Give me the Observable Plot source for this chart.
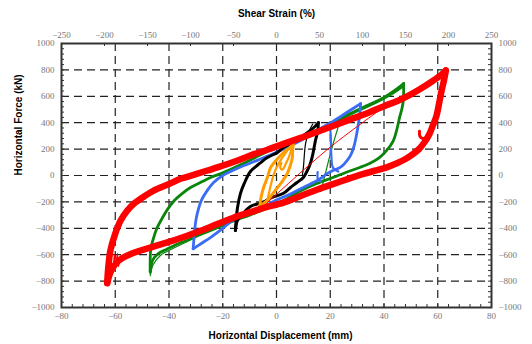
<!DOCTYPE html>
<html><head><meta charset="utf-8">
<script src="https://cdn.jsdelivr.net/npm/d3@7"></script>
<script src="https://cdn.jsdelivr.net/npm/@observablehq/plot@0.6"></script>
<style>body{margin:0;background:#fff}</style>
</head><body><div id="chart"></div>
<script>
// ---- axis ticks ----
const xTicks = [-80, -60, -40, -20, 0, 20, 40, 60, 80];
const yTicks = [-1000, -800, -600, -400, -200, 0, 200, 400, 600, 800, 1000];
const strainTicks = [-250, -200, -150, -100, -50, 0, 50, 100, 150, 200, 250];
const xGrid = [-60, -40, -20, 0, 20, 40, 60];
const yGrid = [-800, -600, -400, -200, 0, 200, 400, 600, 800];
const strainPerMm = 1 / 0.32; // shear strain (%) per mm of displacement

// ---- hysteresis loops: [displacement mm, force kN] ----
const greenUp = [[-47,-730],[-47,-650],[-46.8,-560],[-45.7,-470],[-44.5,-400],[-43,-341],[-40.5,-255],[-38,-189],[-35,-135],[-32,-91],[-28,-50],[-24.5,-15],[-20,20],[-14,75],[-8,135],[-3,185],[3,232],[9,285],[15,341],[21,400],[27,465],[33.5,528],[40,592],[44,645],[47.3,697]];
const greenUp2 = [[5,250],[12,315],[20,385],[28,465],[36,540],[42,605],[46.8,670]];
const greenDown = [[47.3,697],[47.3,620],[47.2,568],[46.6,500],[45.8,440],[44.8,350],[43.5,265],[41,190],[38.3,136],[35,95],[31,61],[26,25],[21,-15],[15,-60],[9,-115],[3,-185],[-3.7,-250],[-10,-300],[-16,-345],[-22,-395],[-28,-445],[-33,-488],[-38,-530],[-41,-560],[-44,-592],[-46,-640],[-47,-730]];
const greenThin = [[-30,-470],[-38,-548],[-43,-602],[-46,-680],[-47,-760],[-46.8,-650]];
const greenInner = [[16.5,-120],[18.5,40],[20.5,200],[23,370]];
const blueUp = [[-31,-555],[-30.6,-450],[-30,-340],[-29,-250],[-28,-190],[-26,-120],[-23.5,-55],[-20,0],[-15,50],[-9,100],[-3,150],[3,205],[9,265],[15,340],[21,410],[26,475],[31.3,545]];
const blueDown = [[31.3,545],[31,470],[30.5,394],[29.7,300],[28.7,212],[27.5,150],[26.3,114],[24,65],[21,38],[18.5,10],[17,-15],[15,-40],[10,-90],[5.2,-140],[0,-185],[-3.7,-225],[-10,-280],[-16,-335],[-20,-400],[-24.6,-470],[-28,-515],[-31,-555]];
const blueHook = [[15.3,25],[15.5,-35],[16.5,-45]];
const blueInner = [[19.8,395],[20.2,300],[20.4,150],[21,60],[23,30]];
const blackUp = [[-15.3,-417],[-15,-330],[-14.5,-242],[-13.4,-136],[-12,-60],[-9.7,30],[-6,95],[-3.4,136],[0.4,175],[2.6,212],[6.3,250],[9,288],[12.6,341],[14.5,375],[15.6,400]];
const blackDown = [[15.6,400],[15.3,330],[14.5,265],[13.5,160],[12.6,91],[11.3,30],[10,-15],[7.5,-55],[5.2,-91],[2.6,-135],[-2.2,-170],[-4.8,-200],[-9.7,-235],[-12.5,-290],[-14.5,-340],[-15.3,-417]];
const blackThin = [[9.6,0],[10,60],[10.8,240],[12,330],[13.5,390]];
const orangeUp = [[-6.2,-230],[-5.8,-170],[-4.8,-91],[-3.4,-15],[-2.2,61],[-0.4,110],[1.5,152],[3.5,190],[5.2,212],[6.3,242]];
const orangeDown = [[6.3,242],[6,190],[5.9,136],[5.2,80],[4,15],[2.3,-40],[0.4,-91],[-1.5,-140],[-3.4,-189],[-6.2,-230]];
const orangeInner = [[-3.4,-190],[-2.2,-80],[-1,10],[0.8,90],[3,160],[5.8,235],[4.8,150],[3.5,90],[2.2,45],[1.4,60],[1.8,95]];
const redUp = [[-63,-815],[-62.6,-700],[-61.8,-568],[-60,-440],[-58,-341],[-55.5,-265],[-53,-212],[-49,-155],[-45.7,-114],[-40,-65],[-35.7,-25],[-30,10],[-25.7,38],[-22,61],[-15,110],[-10,150],[-3.4,195],[2.6,240],[9,285],[15,330],[21,375],[27.5,425],[33.5,470],[40,525],[45,565],[48.4,598],[53,650],[58.4,720],[61.5,765],[63,795]];
const redDown = [[63,795],[62.3,720],[61.5,650],[60.7,568],[59.5,450],[58,370],[57,318],[55,250],[53,200],[51,166],[48,125],[45,95],[41,62],[37,38],[32,10],[27.5,-20],[21,-65],[15,-108],[9,-155],[2.6,-205],[-4.8,-245],[-10,-280],[-16,-320],[-22,-368],[-28,-417],[-34,-462],[-40.6,-507],[-46,-540],[-50.6,-568],[-54,-592],[-57,-621],[-59.5,-660],[-61.5,-720],[-63,-815]];
const redHook = [[53.2,335],[53.4,295],[54.4,280],[56,290]];
const redNoise = [[-62.5,-780],[-61.5,-660],[-61,-740],[-60.3,-600],[-60,-720],[-59.2,-590],[-58.8,-690],[-58,-610],[-57.5,-640]];
const redRamp = [[-5,-235],[20,215],[42.5,555]];

const paths = [
  {pts: greenUp, color: "#0a850a", w: 2.8},
  {pts: greenUp2, color: "#0a850a", w: 2},
  {pts: greenDown, color: "#0a850a", w: 2.8},
  {pts: greenThin, color: "#0a850a", w: 1.2},
  {pts: greenInner, color: "#0a850a", w: 1.2},
  {pts: blueUp, color: "#3a6cf4", w: 2.8},
  {pts: blueDown, color: "#3a6cf4", w: 2.8},
  {pts: blueHook, color: "#3a6cf4", w: 2.2},
  {pts: blueInner, color: "#3a6cf4", w: 2.2},
  {pts: blackUp, color: "#000000", w: 3},
  {pts: blackDown, color: "#000000", w: 3},
  {pts: blackThin, color: "#000000", w: 1.2},
  {pts: orangeUp, color: "#ff9c00", w: 3},
  {pts: orangeDown, color: "#ff9c00", w: 3},
  {pts: orangeInner, color: "#ff9c00", w: 2.2},
  {pts: redUp, color: "#ff0000", w: 6.5},
  {pts: redDown, color: "#ff0000", w: 6.5},
  {pts: redHook, color: "#ff0000", w: 3},
  {pts: redNoise, color: "#ff0000", w: 1.2},
  {pts: redRamp, color: "#ff0000", w: 1}
];

const fmt = d3.format("d");
const xMinor = d3.range(-80, 80.1, 4);
const yMinor = d3.range(-1000, 1000.1, 40);

const chart = Plot.plot({
  width: 532, height: 344,
  marginLeft: 61, marginRight: 41, marginTop: 43, marginBottom: 37,
  style: {fontFamily: "Liberation Serif", fontSize: "9px", color: "#777", background: "white"},
  x: {domain: [-80, 80], ticks: xTicks, tickSize: 0, tickPadding: 5, tickFormat: fmt, label: null},
  y: {domain: [-1000, 1000], ticks: yTicks, tickSize: 0, tickPadding: 7, tickFormat: fmt, label: null, axis: "both"},
  marks: [
    Plot.ruleX(xGrid, {x: d => d, stroke: "#222", strokeWidth: 1.2, strokeDasharray: "8,5"}),
    Plot.ruleY(yGrid, {y: d => d, stroke: "#222", strokeWidth: 1.2, strokeDasharray: "8,5"}),
    Plot.tickX(xMinor, {x: d => d, stroke: "#333", insetTop: 261}),
    Plot.tickY(yMinor, {y: d => d, stroke: "#333", insetRight: 427}),
    Plot.tickY(yMinor, {y: d => d, stroke: "#333", insetLeft: 427}),
    Plot.tickX(strainTicks, {x: d => d / strainPerMm, stroke: "#333", insetBottom: 261}),
    ...paths.map(p => Plot.line(p.pts, {x: d => d[0], y: d => d[1], stroke: p.color, strokeWidth: p.w, curve: "catmull-rom", strokeLinecap: "round", strokeLinejoin: "round"})),
    Plot.frame({stroke: "#333", strokeWidth: 2}),
    Plot.text(strainTicks, {x: d => d / strainPerMm, frameAnchor: "top", dy: -6, lineAnchor: "bottom", text: d => fmt(d), fill: "#777", fontSize: 9, fontFamily: "Liberation Serif"}),
    Plot.text(["Shear Strain (%)"], {frameAnchor: "top", dy: -27, lineAnchor: "bottom", fill: "black", fontWeight: "bold", fontSize: 10, fontFamily: "Liberation Sans"}),
    Plot.text(["Horizontal Displacement (mm)"], {frameAnchor: "bottom", dy: 31, dx: 4, lineAnchor: "bottom", fill: "black", fontWeight: "bold", fontSize: 10, fontFamily: "Liberation Sans"}),
    Plot.text(["Horizontal Force (kN)"], {frameAnchor: "left", dx: -43, rotate: -90, fill: "black", fontWeight: "bold", fontSize: 10, fontFamily: "Liberation Sans"})
  ]
});
document.getElementById("chart").appendChild(chart);
</script>
</body></html>
